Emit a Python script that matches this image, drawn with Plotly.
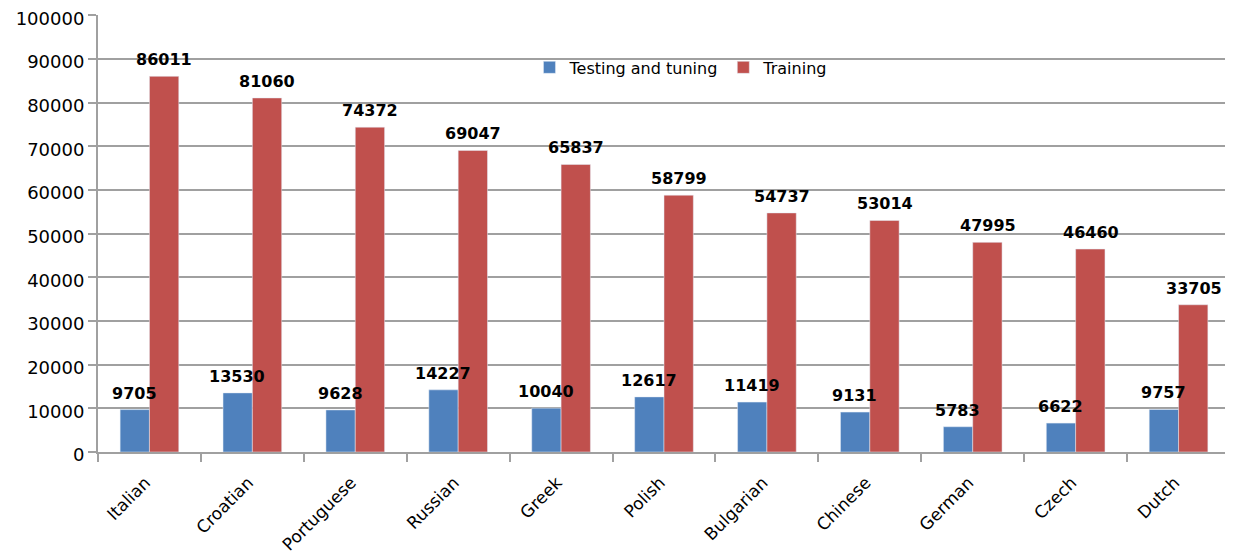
import plotly.graph_objects as go

languages = ["Italian", "Croatian", "Portuguese", "Russian", "Greek", "Polish",
             "Bulgarian", "Chinese", "German", "Czech", "Dutch"]
testing_tuning = [9705, 13530, 9628, 14227, 10040, 12617, 11419, 9131, 5783, 6622, 9757]
training = [86011, 81060, 74372, 69047, 65837, 58799, 54737, 53014, 47995, 46460, 33705]

FONT = "DejaVu Sans"

fig = go.Figure()
fig.add_trace(go.Bar(
    x=languages, y=testing_tuning, name="Testing and tuning",
    marker=dict(color="#4F81BD"),
))
fig.add_trace(go.Bar(
    x=languages, y=training, name="Training",
    marker=dict(color="#C0504D"),
))

annotations = []
for series, shift in ((testing_tuning, -15), (training, 15)):
    for lang, v in zip(languages, series):
        annotations.append(dict(
            x=lang, y=v, text=f"<b>{v}</b>", showarrow=False,
            xanchor="center", yanchor="bottom", xshift=shift, yshift=5,
            font=dict(family=FONT, size=16, color="black"),
        ))

fig.update_layout(
    width=1225, height=548,
    margin=dict(l=90, r=3, t=7, b=104),
    paper_bgcolor="white", plot_bgcolor="white",
    barmode="group", bargap=0.43, bargroupgap=0,
    font=dict(family=FONT, color="black"),
    showlegend=True,
    legend=dict(orientation="h", x=0.515, y=0.88, xanchor="center", yanchor="middle",
                font=dict(family=FONT, size=16, color="black"),
                bgcolor="rgba(255,255,255,0)", traceorder="normal"),
    annotations=annotations,
)
fig.update_xaxes(
    type="category", showgrid=False, showline=True, linecolor="#A0A0A0", linewidth=2,
    ticks="outside", tickson="boundaries", ticklen=8, tickcolor="#A0A0A0", tickwidth=2,
    tickangle=-45, tickfont=dict(family=FONT, size=17, color="black"), automargin=False,
    ticklabelstandoff=12, ticklabelshift=-4,
)
fig.update_yaxes(
    range=[0, 100050], tickvals=list(range(0, 100001, 10000)),
    showgrid=True, gridcolor="#A0A0A0", gridwidth=2,
    showline=True, linecolor="#A0A0A0", linewidth=2,
    ticks="outside", ticklen=8, tickcolor="#A0A0A0", tickwidth=2,
    tickfont=dict(family=FONT, size=18, color="black"), tickformat="d",
    zeroline=False, automargin=False, ticklabeloverflow="allow",
    ticklabelshift=3,
)

fig.write_html("out.html")
